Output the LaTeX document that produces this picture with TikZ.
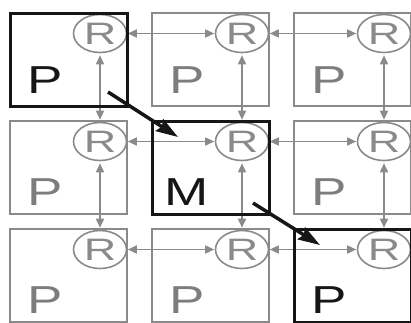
\documentclass[tikz,border=0pt]{standalone}
\usepackage{fontspec}
\setmainfont{Liberation Sans}
\usetikzlibrary{arrows.meta,shapes.geometric}
\definecolor{tilegray}{RGB}{138,138,138}
\definecolor{labelgray}{RGB}{125,125,125}
\definecolor{hot}{RGB}{22,22,22}

\begin{document}
\begin{tikzpicture}[x=1pt,y=-1pt,
  tile/.style={draw=tilegray, line width=2pt, minimum width=117pt,
    minimum height=93pt, anchor=north west, inner sep=0pt},
  hottile/.style={tile, draw=hot, line width=3pt},
  router/.style={ellipse, draw=tilegray, line width=1.6pt, minimum width=53pt,
    minimum height=38pt, inner sep=0pt, text=tilegray,
    font=\fontsize{31}{31}\selectfont},
  tilelabel/.style={anchor=base, inner sep=0pt, text=labelgray,
    font=\fontsize{39}{39}\selectfont},
  hotlabel/.style={tilelabel, text=hot},
  link/.style={draw=tilegray, line width=1.6pt,
    {Triangle[length=9pt,width=8pt]}-{Triangle[length=9pt,width=8pt]}},
  flow/.style={draw=hot, line width=3.5pt,
    -{Stealth[length=22pt,width=14pt,inset=3pt]}}
]
\useasboundingbox (0,0) rectangle (411,322);

% tiles, routers and tile labels
\foreach \r/\ty in {1/12,2/120,3/228}
  \foreach \c/\lx in {1/9,2/151,3/293} {
    \node[tile] (t\r\c) at (\lx,\ty) {};
    \node[router] (r\r\c) at (\lx+91,\ty+21.5) {\scalebox{1.45}[1]{R}};
  }

% labels of the ordinary tiles
\node[tilelabel] (l12) at (151+36,12+81) {\scalebox{1.36}[1]{P}};
\node[tilelabel] (l13) at (293+36,12+81) {\scalebox{1.36}[1]{P}};
\node[tilelabel] (l21) at (9+36,120+85) {\scalebox{1.36}[1]{P}};
\node[tilelabel] (l23) at (293+36,120+85) {\scalebox{1.36}[1]{P}};
\node[tilelabel] (l31) at (9+36,228+85) {\scalebox{1.36}[1]{P}};
\node[tilelabel] (l32) at (151+36,228+85) {\scalebox{1.36}[1]{P}};

% links between neighbouring routers
\foreach \r in {1,2,3} {
  \draw[link, shorten <=0.5pt, shorten >=0.5pt] (r\r1.east) -- (r\r2.west);
  \draw[link, shorten <=0.5pt, shorten >=0.5pt] (r\r2.east) -- (r\r3.west);
}
\foreach \c in {1,2,3} {
  \draw[link, shorten <=2pt, shorten >=2pt] (r1\c.south) -- (r2\c.north);
  \draw[link, shorten <=2pt, shorten >=2pt] (r2\c.south) -- (r3\c.north);
}

% highlighted tiles on the path
\node[hottile] (h11) at (9,12) {};
\node[hottile] (h22) at (151,120) {};
\node[hottile] (h33) at (293,228) {};
\node[hotlabel] (l11) at (9+36,12+81) {\scalebox{1.36}[1]{P}};
\node[hotlabel] (l22) at (151+36,120+85) {\scalebox{1.36}[1]{M}};
\node[hotlabel] (l33) at (293+36,228+85) {\scalebox{1.36}[1]{P}};

% flow from P to M and on to P
\coordinate (f1s) at (108,92);
\coordinate (f1e) at (178,137);
\coordinate (f2s) at (253,203);
\coordinate (f2e) at (320,245);
\draw[flow] (f1s) -- (f1e);
\draw[flow] (f2s) -- (f2e);
\end{tikzpicture}
\end{document}
